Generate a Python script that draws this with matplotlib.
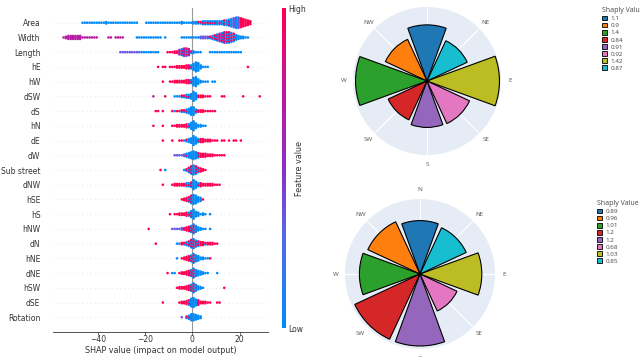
import numpy as np
import matplotlib.pyplot as plt
from matplotlib.colors import LinearSegmentedColormap
from matplotlib.patches import Patch
from matplotlib.cm import ScalarMappable

# ---- SHAP summary (beeswarm) data ----
features = ['Area', 'Width', 'Length', 'hE', 'hW', 'dSW', 'dS', 'hN', 'dE', 'dW',
            'Sub street', 'dNW', 'hSE', 'hS', 'hNW', 'dN', 'hNE', 'dNE', 'hSW', 'dSE',
            'Rotation']

# first SHAP bin (1 unit wide) of each row
swarm_start = [-60, -60, -60, -20, -20, -20, -20, -20, -20, -20,
               -20, -20, -20, -20, -20, -20, -20, -20, -20, -20, -20]
# dots stacked in each bin
swarm_counts = [
    "0000000000 0001111111 1112111111 1111111000 1111111111 1111121111 2222333333 3334456788 7654300000",
    "0000012333 3331111111 0000110111 1000001111 1111111010 0000011111 1112222234 5678887643 2211000000",
    "0000000000 0000000000 0000000001 1111111111 1111110001 1122456652 2111000111 1111111111 1000000000",
    "0000010110 1112222333 5763111000 0000000000 0001000000",
    "0000000100 1122222333 6742111011",
    "0001000010 0011122334 7522211100 0011000000 0100000010",
    "0000110100 0111122346 6322211111",
    "0001000100 0112222335 7422110000",
    "0000000100 0100111234 7533322211 1011010110 1000000000",
    "0000000000 0011112345 6543332221 1111000000",
    "0000001010 0000001246 7643210000",
    "0000000100 0122222334 7533222221 1100000000",
    "0000000000 0000012346 7643100000",
    "0000000000 1011222335 7431210100",
    "0100000000 0111122345 7532110100",
    "0000100000 0001122346 7543322221 1000000000",
    "0000000000 0001012345 7542211100",
    "0000000001 0110122345 7543211000 1000000000",
    "0000000000 0001222345 7532100000 0001000000",
    "0000000100 0000122346 7542221100 1100000000",
    "0000000000 0000010235 5432000000",
]
# feature value per bin: b low, v/p mid, r high, m mixed low+high
swarm_colors = [
    "bbbbbbbbbb bbbbbbbbbb bbbbbbbbbb bbbbbbbbbb bbbbbbbbbb bbbbbbbbbb bbmmmmmmmm bmbmbmbvbv rrrrrrrrrr",
    "pppppppppp pppppppppp pppppppppp pbbbbbbbbb bbbbbbbbbb bbbbbbbbbb bbbvvvvmmm mpmpmmmmbb bbbbbbbbbb",
    "vvvvvvvvvv vvvvvvvvvv vvvvvvvvvv vvvvvvvvbb bbbbbbbbbr rrrrpmpmpm bbbbbbbbbb bbbbbbbbbb bbbbbbbbbb",
    "rrrrrrrrrr rrrrrrrrrm bbbbbbbbbb rrrrrrrrrr rrrrrrrrrr",
    "rrrrrrrrrr rrrrrrrrrm bbbbbbbbbb",
    "pppppppprr rrmmmmmmmb bbrrrrrrrr rrrrrrrrrr rrrrrrrrrr",
    "rrrrrrrrrr rrbrrmmmbb bmrrrrrrrr",
    "rrrrrrrrrr rrrrrrrrmb bbbbbbbbbb",
    "rrrrrrrrrr rrrrrrmmbb bbmrrrrrrr rrrrrrrrrr rrrrrrrrrr",
    "vvvvvvvvvv vvvvvvvmbb bbmrrrrrrr rrrrrrrrrr",
    "rrrrrrrrbb rrrrrrbmmm bmmrrrrrrr",
    "rrrrrrrrrr rrrrrrrmmm bbmrrrrrrr rrrrrrrrrr",
    "rrrrrrrrrr rrrrrrrrmm bbbbrrrrrr",
    "rrrrrrrrrr rrrrrrrrmm bbbbbbbbbb",
    "rrrrrrrrrr vvvvvvrrrm mbbbbbbbbb",
    "rrrrrrrrrr rrrmmrmmmm mmmrrmrrrr rrrrrrrrrr",
    "bbbbbbbbbb bbbbrrrrrm mbbbbbbrrr",
    "rrrrrrrrrr bbbrrrrrrm mbbbbbbbbb bbbbbbbbbb",
    "rrrrrrrrrr rrrrrrrrrm mbbbbbbbbb rrrrrrrrrr",
    "rrrrrrrrrr rrrrrrrrmb bbrrrrrrrr rrrrrrrrrr",
    "vvvvvvvvvv vvvvvvmmmb bbbbbbbbbb",
]
xticks_shap = [-40, -20, 0, 20]

# ---- wind-rose data ----
directions = ['N', 'NW', 'W', 'SW', 'S', 'SE', 'E', 'NE']
angles_deg = [0, 315, 270, 225, 180, 135, 90, 45]
rose_top = [1.1, 0.9, 1.4, 0.84, 0.91, 0.92, 1.42, 0.87]
rose_bottom = [0.89, 0.96, 1.01, 1.2, 1.2, 0.68, 1.03, 0.85]
rose_colors = ['#1f77b4', '#ff7f0e', '#2ca02c', '#d62728',
               '#9467bd', '#e377c2', '#bcbd22', '#17becf']

level = {'b': 0.0, 'v': 0.35, 'p': 0.7, 'r': 1.0}
cmap = LinearSegmentedColormap.from_list(
    'shap_rb', [(0, '#008bfb'), (0.3, '#5a66ea'), (0.5, '#8c2ec6'),
                (0.75, '#c3169a'), (1, '#ff0052')])

fig = plt.figure(figsize=(6.4, 3.57), dpi=100)
W, H = 640, 357

# ---------------- SHAP beeswarm ----------------
ax = fig.add_axes([53 / W, 1 - 332 / H, 215 / W, 324 / H])
n_feat = len(features)
dy = 0.1
xs, ys, vs = [], [], []
for row, feat in enumerate(features):
    y0 = n_feat - 1 - row
    counts = swarm_counts[row].replace(' ', '')
    cols = swarm_colors[row].replace(' ', '')
    for i, c in enumerate(counts):
        n = int(c)
        for k in range(n):
            xs.append(swarm_start[row] + i + 0.5)
            ys.append(y0 + (k - (n - 1) / 2) * dy)
            code = cols[i]
            if code == 'm':
                vs.append(1.0 if k % 2 else 0.0)
            else:
                vs.append(level.get(code, 0.0))
    ax.axhline(y0, color='#cccccc', lw=0.5, dashes=(1, 5), zorder=-1)

ax.axvline(0, color='#999999', lw=0.8, zorder=-1)
ax.scatter(xs, ys, c=vs, cmap=cmap, vmin=0, vmax=1, s=3.5, linewidths=0, zorder=3)
ax.set_xlim(-59, 32)
ax.set_ylim(-1, n_feat)
ax.set_yticks(range(n_feat))
ax.set_yticklabels(features[::-1], fontsize=5.5, color='#333333')
ax.tick_params(axis='y', length=0, pad=9)
ax.set_xticks(xticks_shap)
ax.tick_params(axis='x', labelsize=5.5, length=2, width=0.5, color='#333333',
               labelcolor='#333333', pad=0.5)
for s in ['top', 'right', 'left']:
    ax.spines[s].set_visible(False)
ax.spines['bottom'].set_color('#333333')
ax.spines['bottom'].set_linewidth(0.6)
ax.set_xlabel('SHAP value (impact on model output)', fontsize=5.8, labelpad=1,
              color='#333333')

cax = fig.add_axes([282 / W, 1 - 328 / H, 4 / W, 320 / H])
cb = fig.colorbar(ScalarMappable(cmap=cmap), cax=cax)
cb.outline.set_visible(False)
cb.set_ticks([0, 1])
cb.set_ticklabels(['Low', 'High'])
cax.tick_params(length=0, labelsize=5.5, pad=1.5, labelcolor='#333333')
cb.set_label('Feature value', fontsize=5.8, labelpad=-8, color='#333333')

# ---------------- wind roses ----------------
def rose(rect, radii, rmax, legend_xy):
    pax = fig.add_axes(rect, projection='polar')
    pax.set_facecolor('#E5ECF6')
    pax.set_theta_zero_location('N')
    pax.set_theta_direction(-1)
    pax.set_axisbelow(True)
    th = np.deg2rad(angles_deg)
    pax.bar(th, radii, width=np.deg2rad(40), color=rose_colors,
            edgecolor='black', linewidth=0.8)
    pax.set_ylim(0, rmax)
    pax.set_yticks([])
    pax.set_xticks(np.deg2rad(angles_deg))
    pax.set_xticklabels(directions, fontsize=4.5, color='#555555',
                        family='Open Sans')
    pax.tick_params(axis='x', pad=-4)
    pax.grid(color='white', lw=0.8)
    pax.spines['polar'].set_visible(False)
    handles = [Patch(facecolor=c, edgecolor='black', linewidth=0.6) for c in rose_colors]
    labels = [f'{v:g}' for v in radii]
    leg = fig.legend(handles, labels, loc='upper left', bbox_to_anchor=legend_xy,
                     bbox_transform=fig.transFigure, frameon=False, title='Shaply Value',
                     alignment='left', handlelength=0.8, handleheight=0.8,
                     handletextpad=0.6, labelspacing=0.25, borderpad=0, borderaxespad=0,
                     prop={'family': 'Open Sans', 'size': 4.5},
                     title_fontproperties={'family': 'Open Sans', 'size': 5})
    for t in leg.get_texts():
        t.set_color('#444444')
    leg.get_title().set_color('#444444')
    return pax

rose([353 / W, 1 - 155 / H, 148 / W, 148 / H], rose_top, 1.45, (602 / W, 1 - 7 / H))
rose([345 / W, 1 - 349 / H, 150 / W, 150 / H], rose_bottom, 1.25, (597 / W, 1 - 200 / H))

fig.savefig('out.png', dpi=100)
